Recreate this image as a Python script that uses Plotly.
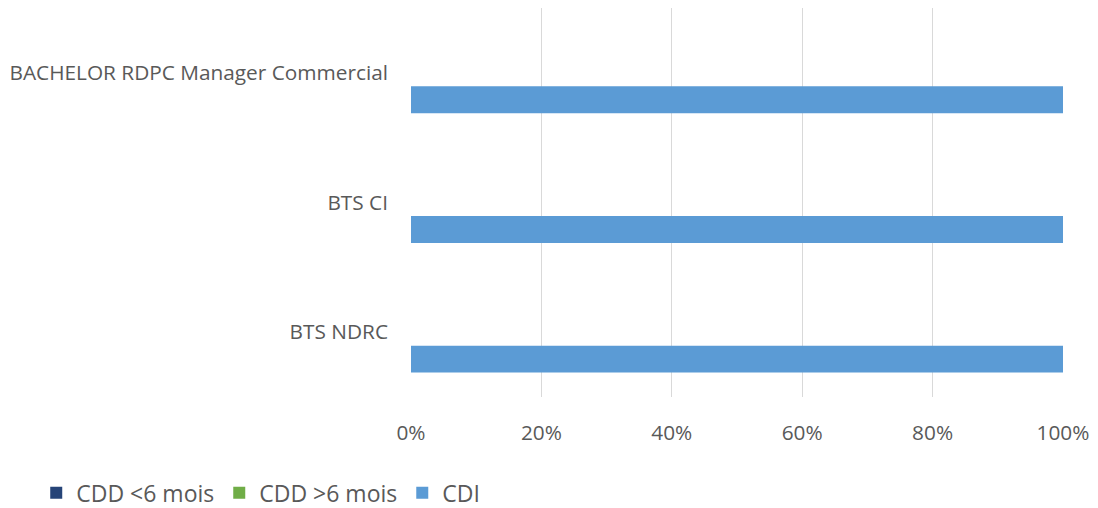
import plotly.graph_objects as go

categories = ["BTS NDRC", "BTS CI", "BACHELOR RDPC Manager Commercial"]
series_names = ["CDD <6 mois", "CDD >6 mois", "CDI"]
cdd_lt6 = [0, 0, 0]
cdd_gt6 = [0, 0, 0]
cdi = [1.0, 1.0, 1.0]
x_ticks = [0, 0.2, 0.4, 0.6, 0.8, 1.0]
x_tick_labels = ["0%", "20%", "40%", "60%", "80%", "100%"]

colors = {"CDD <6 mois": "#264478", "CDD >6 mois": "#70ad47", "CDI": "#5b9bd5"}
values = {"CDD <6 mois": cdd_lt6, "CDD >6 mois": cdd_gt6, "CDI": cdi}

fig = go.Figure()
# add in reverse so CDI sits in the lowest slot of each group
for rank, name in reversed(list(enumerate(series_names))):
    fig.add_trace(go.Bar(
        y=categories, x=values[name], name=name, orientation="h",
        marker=dict(color=colors[name], line=dict(width=0)),
        legendrank=rank + 1,
    ))

font_family = "'Open Sans', Lato, sans-serif"
fs = 20.8
fig.update_layout(
    width=1098, height=508,
    margin=dict(l=411, r=35, t=8, b=111),
    paper_bgcolor="white", plot_bgcolor="white",
    barmode="group", bargap=0.377, bargroupgap=0,
    font=dict(family=font_family, size=fs, color="#595959"),
    showlegend=True,
    legend=dict(
        orientation="h", xref="container", yref="container",
        x=0.033, y=0.03, xanchor="left", yanchor="middle",
        font=dict(size=23, color="#595959"),
        traceorder="normal", itemwidth=30,
    ),
    xaxis=dict(
        range=[0, 1], tickvals=x_ticks, ticktext=x_tick_labels,
        showgrid=True, gridcolor="#d9d9d9", gridwidth=1,
        zeroline=False, showline=False, ticks="",
        ticklabelstandoff=21, tickfont=dict(size=fs, color="#595959"),
    ),
    yaxis=dict(
        showgrid=False, zeroline=False, showline=False, ticks="",
        ticklabelstandoff=22, tickfont=dict(size=fs, color="#595959"),
    ),
)

fig.write_html(
    "out.html",
    config={"displayModeBar": False},
    post_script="document.body.style.margin='0';document.body.style.overflow='hidden';",
)
